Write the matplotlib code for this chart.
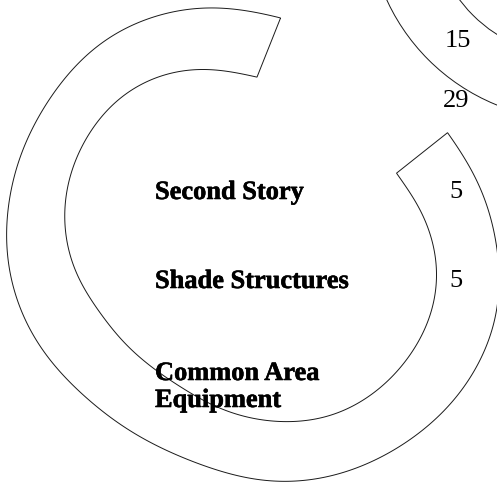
import numpy as np
import matplotlib
matplotlib.use("Agg")
import matplotlib.pyplot as plt
from matplotlib.path import Path
from matplotlib.patches import PathPatch, Wedge
import matplotlib.patheffects as pe

# ---- data ----
categories = ["Second Story", "Shade Structures", "Common Area\nEquipment"]
values = ["5", "5", ""]
upper_values = ["15", "29"]

# ---- figure in pixel coordinates ----
W, H = 497, 485
fig = plt.figure(figsize=(W / 100, H / 100), dpi=100)
ax = fig.add_axes([0, 0, 1, 1])
ax.set_xlim(0, W)
ax.set_ylim(H, 0)
ax.axis("off")

line_kw = dict(fill=False, edgecolor="#1a1a1a", linewidth=0.7)

# ---- outline of the C-shaped band: smooth closed curves through
#      traced outline points (periodic polar interpolation + smoothing) ----
cx, cy = 250, 245
outer_trace = np.array([(200, 8), (133, 25), (100, 43), (67, 77), (40, 117),
                        (20, 157), (10, 200), (6, 233), (10, 277), (33, 337),
                        (87, 397), (150, 442), (200, 463), (273, 483),
                        (333, 477), (400, 447), (460, 395), (497, 320),
                        (500, 290), (497, 255), (480, 187), (445, 135),
                        (282, 22)], float)
inner_trace = np.array([(257, 81), (190, 70), (150, 80), (117, 100), (90, 133),
                        (73, 167), (65, 200), (65, 233), (77, 277), (100, 310),
                        (147, 363), (183, 387), (273, 422), (333, 417),
                        (383, 387), (430, 320), (438, 273), (435, 253),
                        (420, 210), (393, 175)], float)


def polar_curve(pts, sigma_deg=8.0):
    dx, dy = pts[:, 0] - cx, pts[:, 1] - cy
    ph = np.degrees(np.arctan2(dy, dx))
    r = np.hypot(dx, dy)
    grid = np.arange(0, 360, 0.5)
    rg = np.interp(grid, ph, r, period=360)
    k = np.arange(-60, 61) * 0.5
    ker = np.exp(-0.5 * (k / sigma_deg) ** 2)
    ker /= ker.sum()
    ext = np.concatenate([rg[-60:], rg, rg[:60]])
    rs = np.convolve(ext, ker, mode="same")[60:-60]

    def rfun(p_deg):
        return np.interp(np.mod(p_deg, 360), grid, rs, period=360)
    return rfun


r_out = polar_curve(outer_trace)
r_in = polar_curve(inner_trace)


def arc(phi0, phi1, rfun, n=600):
    ph = np.linspace(phi0, phi1, n)
    r = rfun(ph)
    t = np.deg2rad(ph)
    return np.column_stack([cx + r * np.cos(t), cy + r * np.sin(t)])


outer = arc(-82.3, -389.4, r_out)
inner = arc(-385.8, -87.6, r_in)
verts = np.vstack([outer, inner, outer[:1]])
codes = [Path.MOVETO] + [Path.LINETO] * (len(verts) - 2) + [Path.CLOSEPOLY]
ax.add_patch(PathPatch(Path(verts, codes), **line_kw))

# partial band at the top right
ax.add_patch(Wedge((574, -85), 206, 0, 360, width=63, **line_kw))

# ---- text ----
serif = ["Liberation Serif", "DejaVu Serif"]
heavy = [pe.withStroke(linewidth=0.4, foreground="black")]
label_y = [200, 289, 381]
line_step = 27
for cat, val, y in zip(categories, values, label_y):
    for i, part in enumerate(cat.split("\n")):
        ax.text(155, y + i * line_step, part, family=serif, fontsize=19,
                fontweight="bold", ha="left", va="baseline", path_effects=heavy)
    if val:
        ax.text(449, y - 1.5, val, family=serif, fontsize=19,
                ha="left", va="baseline")

upper_y = [46.7, 106.7]
upper_x = [445, 443]
for val, x, y in zip(upper_values, upper_x, upper_y):
    ax.text(x, y, val, family=serif, fontsize=19, ha="left", va="baseline")

fig.savefig("out.png", dpi=100)
